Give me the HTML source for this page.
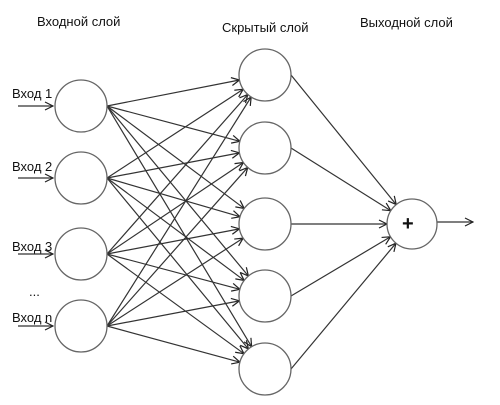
<!DOCTYPE html>
<html><head><meta charset="utf-8"><style>
html,body{margin:0;padding:0;background:#fff;}
svg{display:block;}
text{font-family:"Liberation Sans",Arial,sans-serif;font-size:13px;fill:#111;}
</style></head><body>
<svg width="500" height="405" xmlns="http://www.w3.org/2000/svg">
<defs>
<marker id="a" markerWidth="10" markerHeight="10" refX="9" refY="5" orient="auto" markerUnits="userSpaceOnUse">
<path d="M1,1 L9,5 L1,9" fill="none" stroke="#222" stroke-width="1.2"/>
</marker>
</defs>
<text x="37" y="26">Входной слой</text>
<text x="222" y="32">Скрытый слой</text>
<text x="360" y="27">Выходной слой</text>
<text x="12" y="98">Вход 1</text>
<text x="12" y="171">Вход 2</text>
<text x="12" y="251">Вход 3</text>
<text x="29" y="296">...</text>
<text x="12" y="322">Вход n</text>
<g stroke="#333" stroke-width="1.2" fill="none" id="lines"></g>
<g stroke="#666" stroke-width="1.3" fill="#fff" id="circ"></g>
<text x="402" y="230" style="font-size:20px;font-weight:bold">+</text>
<script>
var ns="http://www.w3.org/2000/svg";
var L=document.getElementById("lines"),C=document.getElementById("circ");
function line(x1,y1,x2,y2,arr){var l=document.createElementNS(ns,"line");l.setAttribute("x1",x1);l.setAttribute("y1",y1);l.setAttribute("x2",x2);l.setAttribute("y2",y2);if(arr)l.setAttribute("marker-end","url(#a)");L.appendChild(l);}
function circ(x,y,r){var c=document.createElementNS(ns,"circle");c.setAttribute("cx",x);c.setAttribute("cy",y);c.setAttribute("r",r);C.appendChild(c);}
var ins=[106,178,254,326],hid=[75,148,224,296,369];
var ix=81,hx=265,ox=412,oy=224,r=26;
ins.forEach(function(y){
 line(18,y,53,y,true);
 hid.forEach(function(h){
  var sx=ix+r,dx=hx-sx,dy=h-y,d=Math.sqrt(dx*dx+dy*dy);
  var ex=hx-r*dx/d,ey=h-r*dy/d;
  line(sx,y,ex,ey,true);
 });
 circ(ix,y,r);
});
hid.forEach(function(h){
 var sx=hx+r,dx=ox-sx,dy=oy-h,d=Math.sqrt(dx*dx+dy*dy);
 line(sx,h,ox-25*dx/d,oy-25*dy/d,true);
 circ(hx,h,r);
});
line(437,222,473,222,true);
circ(ox,oy,25);
</script>
</svg>
</body></html>
